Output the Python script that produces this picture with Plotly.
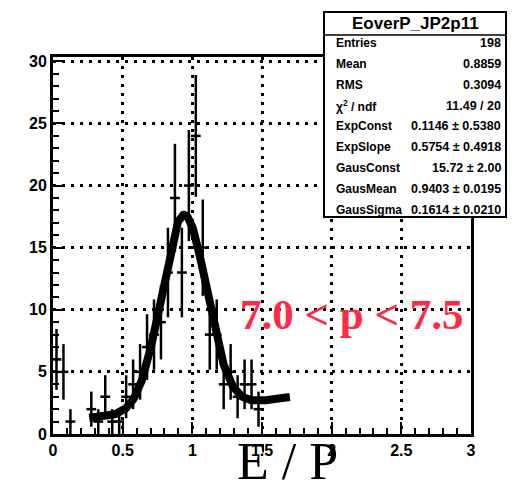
import numpy as np
import plotly.graph_objects as go

# Histogram EoverP_JP2p11: bin centres (width 0.05) and counts, empty bins omitted
bin_centers = [0.025, 0.075, 0.125, 0.275, 0.325, 0.375, 0.425, 0.475,
               0.525, 0.575, 0.625, 0.675, 0.725, 0.775, 0.825, 0.875,
               0.925, 0.975, 1.025, 1.075, 1.125, 1.175, 1.225, 1.275,
               1.325, 1.375, 1.425, 1.475]
counts = [6, 5, 1, 2, 1, 3, 1, 1,
          3, 4, 5, 7, 8, 9, 13, 19,
          13, 20, 24, 15, 8, 8, 4, 5,
          3, 4, 4, 2]

# Fit: exp(ExpConst + ExpSlope*x) + GausConst*gaus(GausMean, GausSigma)
exp_const = 0.1146
exp_slope = 0.5754
gaus_const = 15.72
gaus_mean = 0.9403
gaus_sigma = 0.1614
fit_range = [0.26, 1.70]

stat_labels = ["Entries", "Mean", "RMS", "χ<sup>2</sup> / ndf", "ExpConst",
               "ExpSlope", "GausConst", "GausMean", "GausSigma"]
stat_values = ["198", "0.8859", "0.3094", "11.49 / 20", "0.1146 ± 0.5380",
               "0.5754 ± 0.4918", "15.72 ± 2.00", "0.9403 ± 0.0195",
               "0.1614 ± 0.0210"]

x_ticks = [0, 0.5, 1, 1.5, 2, 2.5, 3]
x_ticktext = ["0", "0.5", "1", "1.5", "2", "2.5", "3"]
y_ticks = [0, 5, 10, 15, 20, 25, 30]

W, H = 512, 481
ML, MR, MT, MB = 53, 41, 57, 47
PW, PH = W - ML - MR, H - MT - MB


def px(xp):
    return (xp - ML) / PW


def py(yp):
    return (H - MB - yp) / PH


fig = go.Figure()

# fit curve
xf = np.linspace(fit_range[0], fit_range[1], 300)
yf = np.exp(exp_const + exp_slope * xf) + gaus_const * np.exp(
    -0.5 * ((xf - gaus_mean) / gaus_sigma) ** 2)
fig.add_trace(go.Scatter(x=xf, y=yf, mode="lines",
                         line=dict(color="black", width=8),
                         hoverinfo="skip", showlegend=False))

# histogram points with sqrt(N) errors
errs = np.sqrt(np.array(counts, dtype=float))
fig.add_trace(go.Scatter(
    x=bin_centers, y=counts, mode="markers",
    marker=dict(symbol="line-ew", size=7, color="black",
                line=dict(color="black", width=2.5)),
    error_y=dict(type="data", array=errs, visible=True,
                 color="black", thickness=2.5, width=0),
    showlegend=False))

tickfont = dict(family="Liberation Sans", size=16, color="black", weight="bold")
axis_common = dict(showline=True, mirror=True, linecolor="black", linewidth=3,
                   ticks="inside", ticklen=12, tickwidth=2, tickcolor="black",
                   showgrid=True, gridcolor="black", gridwidth=3,
                   griddash="3px,6px", zeroline=False, tickfont=tickfont)

fig.update_xaxes(range=[0, 3], tickvals=x_ticks, ticktext=x_ticktext,
                 minor=dict(dtick=0.1, ticklen=6, tickwidth=2,
                            tickcolor="black", ticks="inside", showgrid=False),
                 **axis_common)
fig.update_yaxes(range=[0, 30.35], tickvals=y_ticks,
                 minor=dict(dtick=1, ticklen=6, tickwidth=2,
                            tickcolor="black", ticks="inside", showgrid=False),
                 **axis_common)

# stats box
box_l, box_r, box_t, box_b, head_b = 324, 506, 12, 217, 35
shapes = [
    dict(type="rect", xref="paper", yref="paper",
         x0=px(box_l), x1=px(box_r), y0=py(box_b), y1=py(box_t),
         line=dict(color="black", width=2), fillcolor="white", layer="above"),
    dict(type="line", xref="paper", yref="paper",
         x0=px(box_l), x1=px(box_r), y0=py(head_b), y1=py(head_b),
         line=dict(color="black", width=1.5), layer="above"),
]
annotations = [
    dict(text="<b>EoverP_JP2p11</b>", xref="paper", yref="paper",
         x=px((box_l + box_r) / 2), y=py(23.5), xanchor="center",
         yanchor="middle", showarrow=False,
         font=dict(family="Liberation Sans", size=17, color="black")),
]
row_y0, row_dy = 43.3, 20.8
for i, (lab, val) in enumerate(zip(stat_labels, stat_values)):
    yy = py(row_y0 + i * row_dy)
    annotations.append(dict(text="<b>%s</b>" % lab, xref="paper", yref="paper",
                            x=px(334), y=yy, xanchor="left", yanchor="middle",
                            showarrow=False,
                            font=dict(family="Liberation Sans", size=12,
                                      color="black")))
    annotations.append(dict(text="<b>%s</b>" % val, xref="paper", yref="paper",
                            x=px(503), y=yy, xanchor="right", yanchor="middle",
                            showarrow=False,
                            font=dict(family="Liberation Sans", size=12.5,
                                      color="black")))

# momentum bin label
annotations.append(dict(text="<b>7.0 < p < 7.5</b>", xref="paper", yref="paper",
                        x=px(238), y=py(314), xanchor="left", yanchor="middle",
                        showarrow=False,
                        font=dict(family="Liberation Serif", size=43,
                                  color="#ff2a44")))
# axis title
annotations.append(dict(text="E / P", xref="paper", yref="paper",
                        x=px(287), y=py(461), xanchor="center", yanchor="middle",
                        showarrow=False,
                        font=dict(family="Liberation Serif", size=52,
                                  color="black")))

fig.update_layout(width=W, height=H, autosize=False,
                  margin=dict(l=ML, r=MR, t=MT, b=MB, pad=0),
                  paper_bgcolor="white", plot_bgcolor="white",
                  shapes=shapes, annotations=annotations, showlegend=False)

fig.write_html("out.html")
